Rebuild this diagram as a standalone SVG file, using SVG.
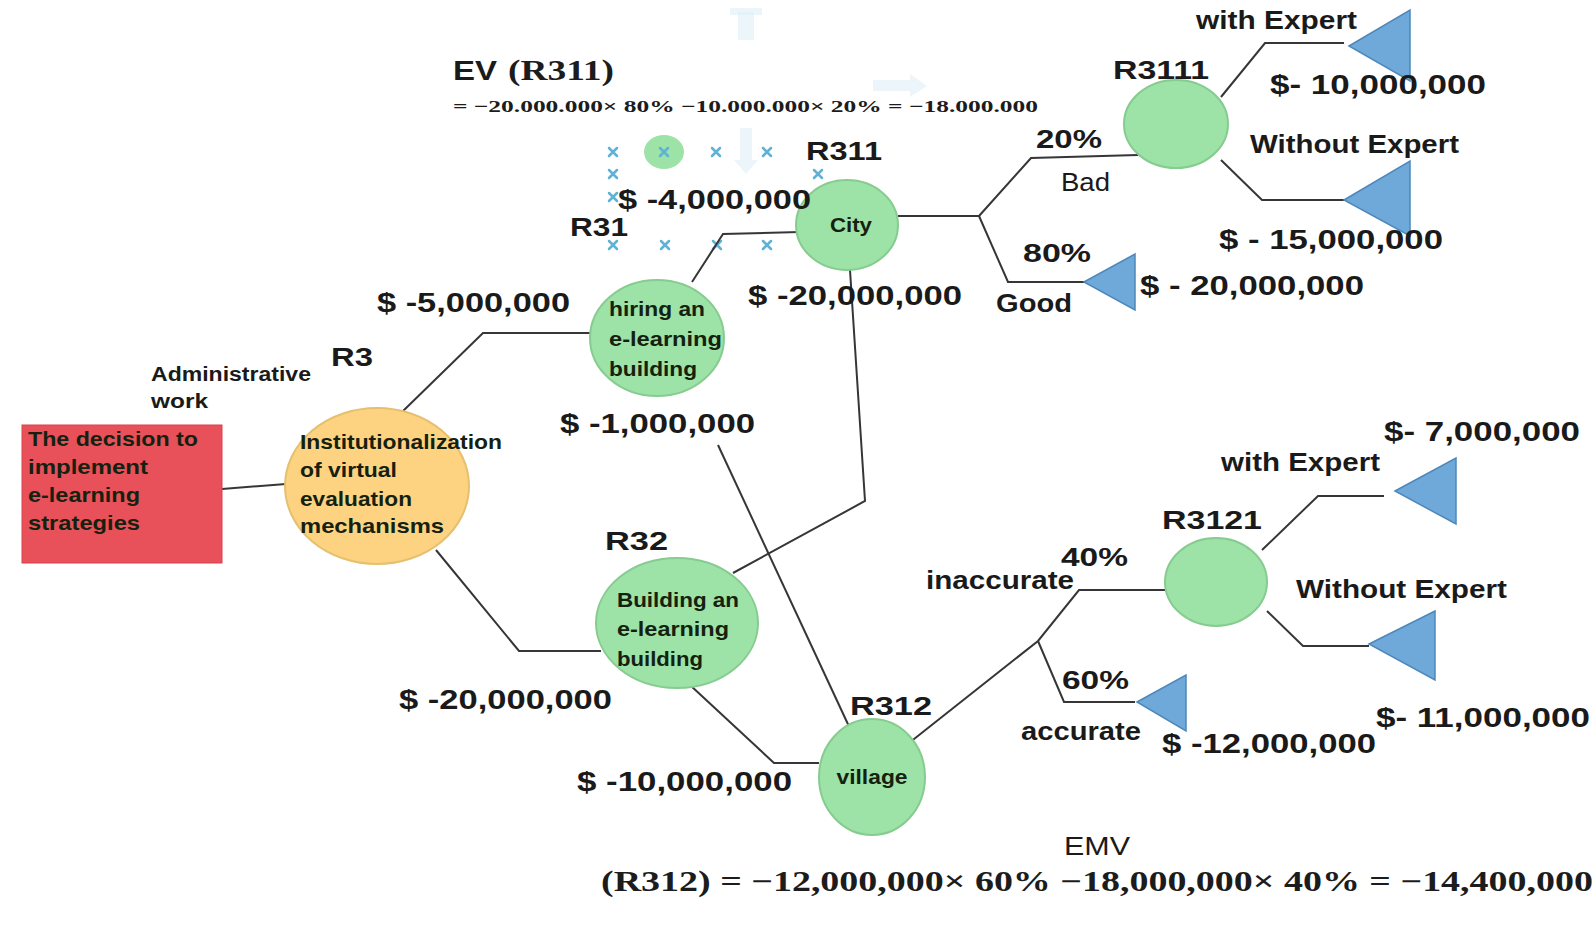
<svg xmlns="http://www.w3.org/2000/svg" width="1596" height="929" viewBox="0 0 1596 929">
  <defs>
    <style>
      .bg { fill: #ffffff; }
      .edge { fill: none; stroke: #363636; stroke-width: 2; stroke-linejoin: miter; }
      .chance { fill: #9de2a6; stroke: #86cc90; stroke-width: 2; }
      .start { fill: #fdd382; stroke: #e5c06e; stroke-width: 2; }
      .decision { fill: #e8505a; stroke: #d9434c; stroke-width: 1; }
      .leaf { fill: #6ea9d9; stroke: #4e88bb; stroke-width: 1.5; }
      .t { font-family: "Liberation Sans", Arial, sans-serif; font-weight: bold; fill: #1a1a1a; }
      .n { font-family: "Liberation Sans", Arial, sans-serif; font-weight: bold; fill: #15210f; font-size: 21px; }
      .r { font-family: "Liberation Sans", Arial, sans-serif; font-weight: normal; fill: #1a1a1a; }
      .f { font-family: "Liberation Serif", "Times New Roman", serif; font-weight: bold; fill: #1c1c1c; }
      .mark { stroke: #5fb2d6; stroke-width: 2.5; stroke-linecap: round; }
      .ghost { fill: #dcecf6; opacity: 0.55; }
    </style>
  </defs>

  <rect class="bg" x="0" y="0" width="1596" height="929"/>

  <!-- faint leftover editing guides -->
  <g id="guides">
    <rect class="ghost" x="738" y="12" width="16" height="28"/>
    <rect class="ghost" x="730" y="8" width="32" height="7"/>
    <path class="ghost" d="M873,80 L910,80 L910,74 L927,86 L910,97 L910,91 L873,91 Z"/>
    <path class="ghost" d="M740,128 L752,128 L752,160 L758,160 L746,174 L734,160 L740,160 Z"/>
    <ellipse cx="664" cy="152" rx="20" ry="17" fill="#9de2a6"/>
    <g>
      <path class="mark" d="M609,148 l8,8 M617,148 l-8,8"/>
      <path class="mark" d="M660,148 l8,8 M668,148 l-8,8"/>
      <path class="mark" d="M712,148 l8,8 M720,148 l-8,8"/>
      <path class="mark" d="M763,148 l8,8 M771,148 l-8,8"/>
      <path class="mark" d="M609,170 l8,8 M617,170 l-8,8"/>
      <path class="mark" d="M609,193 l8,8 M617,193 l-8,8"/>
      <path class="mark" d="M814,170 l8,8 M822,170 l-8,8"/>
      <path class="mark" d="M814,193 l8,8 M822,193 l-8,8"/>
      <path class="mark" d="M609,241 l8,8 M617,241 l-8,8"/>
      <path class="mark" d="M661,241 l8,8 M669,241 l-8,8"/>
      <path class="mark" d="M713,241 l8,8 M721,241 l-8,8"/>
      <path class="mark" d="M763,241 l8,8 M771,241 l-8,8"/>
    </g>
  </g>

  <!-- connectors -->
  <g id="connectors">
    <path class="edge" d="M222,489 L286,484"/>
    <path class="edge" d="M402,412 L483,333 L590,333"/>
    <path class="edge" d="M436,550 L519,651 L601,651"/>
    <path class="edge" d="M692,282 L723,234 L800,232"/>
    <path class="edge" d="M850,270 L865,501 L733,573"/>
    <path class="edge" d="M718,445 L853,735"/>
    <path class="edge" d="M690,685 L774,763 L819,763"/>
    <path class="edge" d="M898,216 L979,216"/>
    <path class="edge" d="M979,216 L1031,158 L1138,155"/>
    <path class="edge" d="M979,216 L1008,282 L1084,282"/>
    <path class="edge" d="M1221,97 L1265,43 L1344,43"/>
    <path class="edge" d="M1221,160 L1262,200 L1344,200"/>
    <path class="edge" d="M909,743 L1038,641 L1079,590 L1165,590"/>
    <path class="edge" d="M1038,641 L1064,702 L1135,702"/>
    <path class="edge" d="M1262,550 L1318,496 L1384,496"/>
    <path class="edge" d="M1267,611 L1303,646 L1369,646"/>
  </g>

  <!-- root decision -->
  <g id="decision">
    <rect class="decision" x="22" y="425" width="200" height="138"/>
    <text class="n" x="28" y="446" font-size="20" fill="#2b0b0b" textLength="170" lengthAdjust="spacingAndGlyphs">The decision to</text>
    <text class="n" x="28" y="474" font-size="20" fill="#2b0b0b" textLength="120" lengthAdjust="spacingAndGlyphs">implement</text>
    <text class="n" x="28" y="502" font-size="20" fill="#2b0b0b" textLength="112" lengthAdjust="spacingAndGlyphs">e-learning</text>
    <text class="n" x="28" y="530" font-size="20" fill="#2b0b0b" textLength="112" lengthAdjust="spacingAndGlyphs">strategies</text>
  </g>

  <!-- R3 -->
  <g id="node-R3">
    <ellipse class="start" cx="377" cy="486" rx="92" ry="78"/>
    <text class="n" x="300" y="449" font-size="20" textLength="202" lengthAdjust="spacingAndGlyphs">Institutionalization</text>
    <text class="n" x="300" y="477" font-size="20" textLength="97" lengthAdjust="spacingAndGlyphs">of virtual</text>
    <text class="n" x="300" y="506" font-size="20" textLength="112" lengthAdjust="spacingAndGlyphs">evaluation</text>
    <text class="n" x="300" y="533" font-size="20" textLength="144" lengthAdjust="spacingAndGlyphs">mechanisms</text>
    <text class="t" x="331" y="366" font-size="25" textLength="42" lengthAdjust="spacingAndGlyphs">R3</text>
    <text class="t" x="151" y="381" font-size="20" textLength="160" lengthAdjust="spacingAndGlyphs">Administrative</text>
    <text class="t" x="151" y="408" font-size="20" textLength="57" lengthAdjust="spacingAndGlyphs">work</text>
  </g>

  <!-- R31 -->
  <g id="node-R31">
    <ellipse class="chance" cx="657" cy="338" rx="67" ry="58"/>
    <text class="n" x="609" y="316" textLength="96" lengthAdjust="spacingAndGlyphs">hiring an</text>
    <text class="n" x="609" y="346" textLength="113" lengthAdjust="spacingAndGlyphs">e-learning</text>
    <text class="n" x="609" y="376" textLength="88" lengthAdjust="spacingAndGlyphs">building</text>
    <text class="t" x="570" y="236" font-size="26" textLength="58" lengthAdjust="spacingAndGlyphs">R31</text>
    <text class="t" x="377" y="312" font-size="27" textLength="193" lengthAdjust="spacingAndGlyphs">$ -5,000,000</text>
    <text class="t" x="560" y="433" font-size="27" textLength="195" lengthAdjust="spacingAndGlyphs">$ -1,000,000</text>
  </g>

  <!-- R311 -->
  <g id="node-R311">
    <ellipse class="chance" cx="847" cy="225" rx="51" ry="45"/>
    <text class="n" x="851" y="232" text-anchor="middle" textLength="42" lengthAdjust="spacingAndGlyphs">City</text>
    <text class="t" x="806" y="160" font-size="26" textLength="76" lengthAdjust="spacingAndGlyphs">R311</text>
    <text class="t" x="618" y="209" font-size="27" textLength="193" lengthAdjust="spacingAndGlyphs">$ -4,000,000</text>
    <text class="t" x="748" y="305" font-size="27" textLength="214" lengthAdjust="spacingAndGlyphs">$ -20,000,000</text>
    <text class="t" x="453" y="80" font-size="28" textLength="44" lengthAdjust="spacingAndGlyphs">EV</text>
    <text class="f" x="508" y="80" font-size="29" textLength="106" lengthAdjust="spacingAndGlyphs">(R311)</text>
    <text class="f" x="453" y="112" font-size="17" textLength="585" lengthAdjust="spacingAndGlyphs">= −20.000.000× 80% −10.000.000× 20% = −18.000.000</text>
  </g>

  <!-- R311 outcomes -->
  <g id="branch-R311">
    <text class="t" x="1036" y="148" font-size="25" textLength="66" lengthAdjust="spacingAndGlyphs">20%</text>
    <text class="r" x="1061" y="191" font-size="25" textLength="49" lengthAdjust="spacingAndGlyphs">Bad</text>
    <text class="t" x="1023" y="262" font-size="25" textLength="68" lengthAdjust="spacingAndGlyphs">80%</text>
    <text class="t" x="996" y="312" font-size="25" textLength="76" lengthAdjust="spacingAndGlyphs">Good</text>
  </g>
  <g id="leaf-good">
    <polygon class="leaf" points="1084,282 1135,254 1135,310"/>
    <text class="t" x="1140" y="295" font-size="27" textLength="224" lengthAdjust="spacingAndGlyphs">$ - 20,000,000</text>
  </g>

  <!-- R3111 -->
  <g id="node-R3111">
    <ellipse class="chance" cx="1176" cy="124" rx="52" ry="44"/>
    <text class="t" x="1113" y="79" font-size="26" textLength="96" lengthAdjust="spacingAndGlyphs">R3111</text>
    <text class="t" x="1196" y="29" font-size="25" textLength="161" lengthAdjust="spacingAndGlyphs">with Expert</text>
    <text class="t" x="1250" y="153" font-size="25" textLength="209" lengthAdjust="spacingAndGlyphs">Without Expert</text>
  </g>
  <g id="leaf-R3111-with">
    <polygon class="leaf" points="1349,46 1410,10 1410,81"/>
    <text class="t" x="1270" y="94" font-size="27" textLength="216" lengthAdjust="spacingAndGlyphs">$- 10,000,000</text>
  </g>
  <g id="leaf-R3111-without">
    <polygon class="leaf" points="1344,200 1410,161 1410,236"/>
    <text class="t" x="1219" y="249" font-size="27" textLength="224" lengthAdjust="spacingAndGlyphs">$ - 15,000,000</text>
  </g>

  <!-- R32 -->
  <g id="node-R32">
    <ellipse class="chance" cx="677" cy="623" rx="81" ry="65"/>
    <text class="n" x="617" y="607" textLength="122" lengthAdjust="spacingAndGlyphs">Building an</text>
    <text class="n" x="617" y="636" textLength="112" lengthAdjust="spacingAndGlyphs">e-learning</text>
    <text class="n" x="617" y="666" textLength="86" lengthAdjust="spacingAndGlyphs">building</text>
    <text class="t" x="605" y="550" font-size="26" textLength="63" lengthAdjust="spacingAndGlyphs">R32</text>
    <text class="t" x="399" y="709" font-size="27" textLength="213" lengthAdjust="spacingAndGlyphs">$ -20,000,000</text>
  </g>

  <!-- R312 -->
  <g id="node-R312">
    <ellipse class="chance" cx="872" cy="777" rx="53" ry="58"/>
    <text class="n" x="872" y="784" text-anchor="middle" textLength="71" lengthAdjust="spacingAndGlyphs">village</text>
    <text class="t" x="850" y="715" font-size="26" textLength="82" lengthAdjust="spacingAndGlyphs">R312</text>
    <text class="t" x="577" y="791" font-size="27" textLength="215" lengthAdjust="spacingAndGlyphs">$ -10,000,000</text>
    <text class="r" x="1097" y="855" font-size="25" text-anchor="middle" textLength="66" lengthAdjust="spacingAndGlyphs">EMV</text>
    <text class="f" x="601" y="891" font-size="29" textLength="992" lengthAdjust="spacingAndGlyphs">(R312) = −12,000,000× 60% −18,000,000× 40% = −14,400,000</text>
  </g>

  <!-- R312 outcomes -->
  <g id="branch-R312">
    <text class="t" x="926" y="589" font-size="25" textLength="148" lengthAdjust="spacingAndGlyphs">inaccurate</text>
    <text class="t" x="1061" y="566" font-size="25" textLength="67" lengthAdjust="spacingAndGlyphs">40%</text>
    <text class="t" x="1062" y="689" font-size="25" textLength="67" lengthAdjust="spacingAndGlyphs">60%</text>
    <text class="t" x="1021" y="740" font-size="25" textLength="120" lengthAdjust="spacingAndGlyphs">accurate</text>
  </g>
  <g id="leaf-accurate">
    <polygon class="leaf" points="1137,702 1186,675 1186,731"/>
    <text class="t" x="1162" y="753" font-size="27" textLength="214" lengthAdjust="spacingAndGlyphs">$ -12,000,000</text>
  </g>

  <!-- R3121 -->
  <g id="node-R3121">
    <ellipse class="chance" cx="1216" cy="582" rx="51" ry="44"/>
    <text class="t" x="1162" y="529" font-size="26" textLength="100" lengthAdjust="spacingAndGlyphs">R3121</text>
    <text class="t" x="1221" y="471" font-size="25" textLength="159" lengthAdjust="spacingAndGlyphs">with Expert</text>
    <text class="t" x="1296" y="598" font-size="25" textLength="211" lengthAdjust="spacingAndGlyphs">Without Expert</text>
  </g>
  <g id="leaf-R3121-with">
    <polygon class="leaf" points="1395,491 1456,458 1456,524"/>
    <text class="t" x="1384" y="441" font-size="27" textLength="196" lengthAdjust="spacingAndGlyphs">$- 7,000,000</text>
  </g>
  <g id="leaf-R3121-without">
    <polygon class="leaf" points="1369,644 1435,611 1435,680"/>
    <text class="t" x="1376" y="727" font-size="27" textLength="214" lengthAdjust="spacingAndGlyphs">$- 11,000,000</text>
  </g>
</svg>
